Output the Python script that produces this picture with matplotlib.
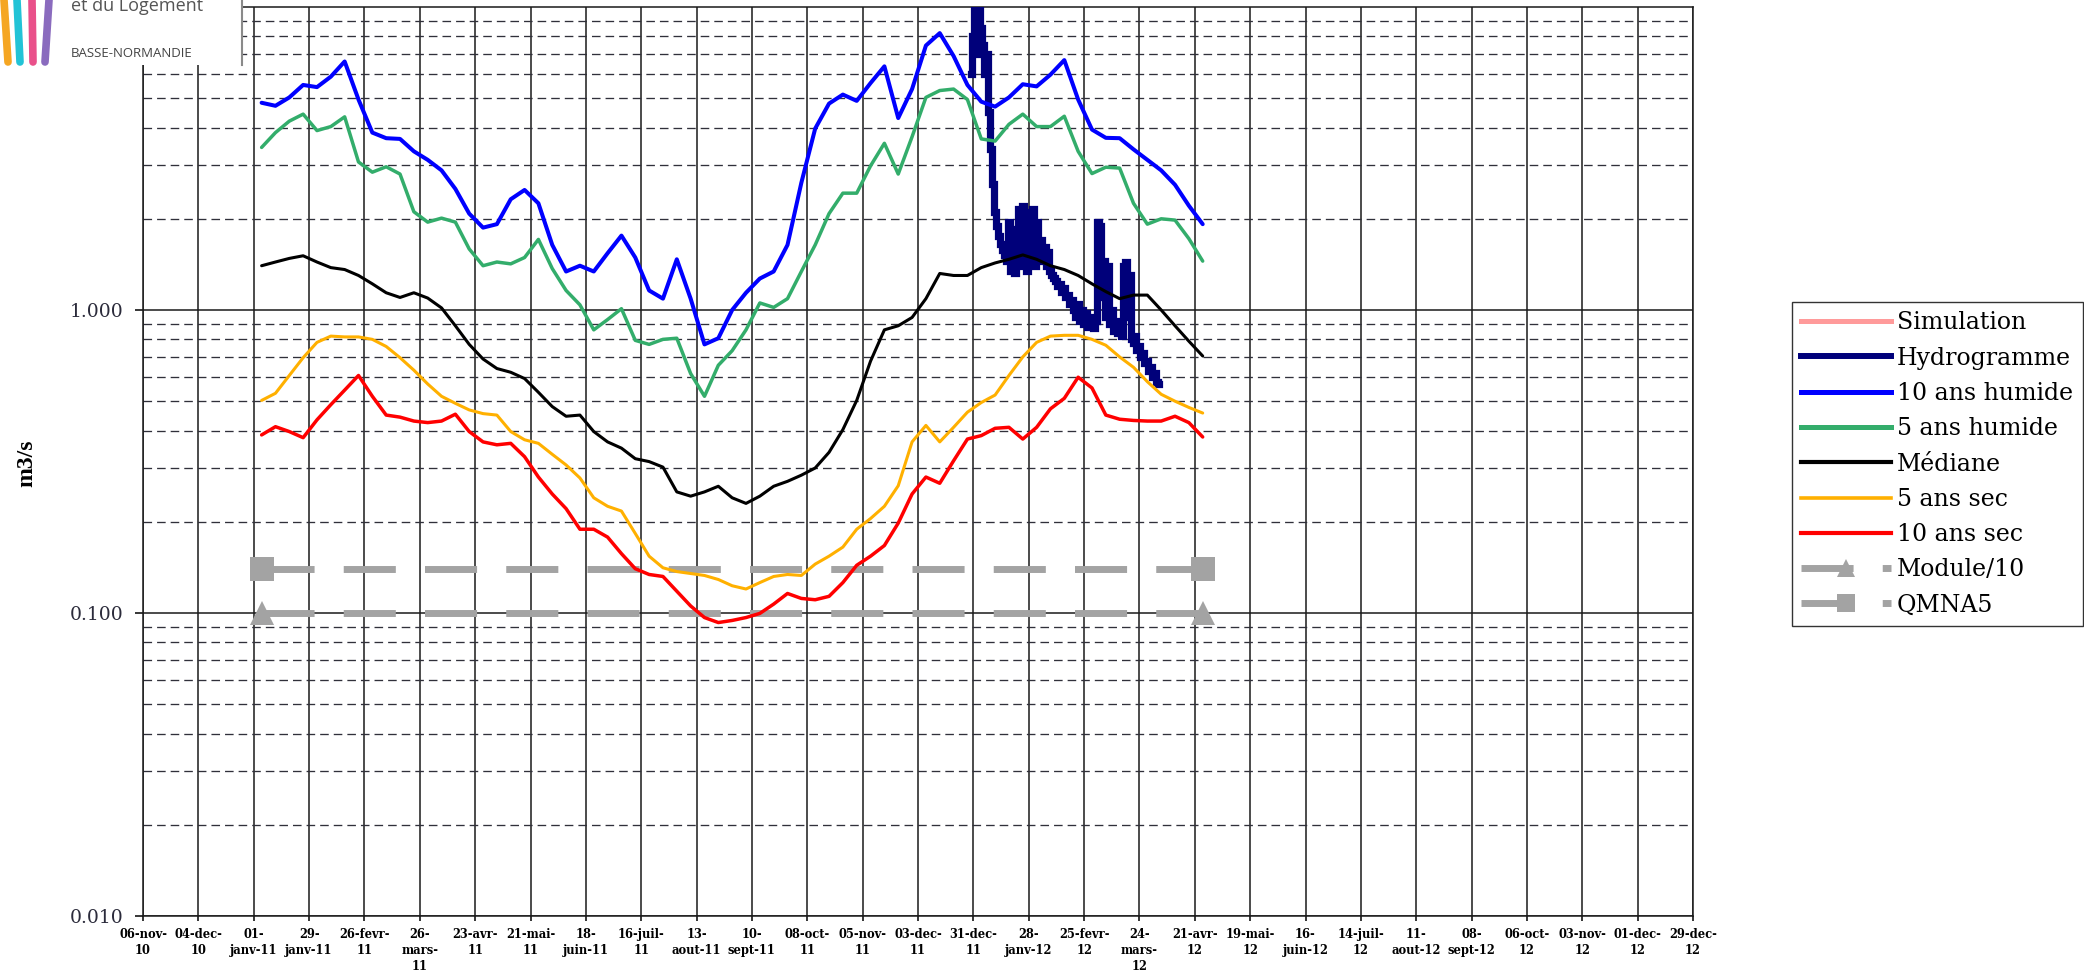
import matplotlib
matplotlib.use('Agg')
import matplotlib.pyplot as plt
from matplotlib.lines import Line2D
from matplotlib.patches import Rectangle
from matplotlib.ticker import FixedLocator, FixedFormatter, LogLocator, NullFormatter, NullLocator
import numpy as np
import pandas as pd

plt.rcParams['font.family'] = ['DejaVu Serif']

W, H, DPI = 2084, 974, 100

# ---------------- data ----------------
tick_dates = pd.date_range('2010-11-06', periods=29, freq='28D')
tick_labels = ["06-nov-\n10", "04-dec-\n10", "01-\njanv-11", "29-\njanv-11", "26-fevr-\n11",
               "26-\nmars-\n11", "23-avr-\n11", "21-mai-\n11", "18-\njuin-11", "16-juil-\n11",
               "13-\naout-11", "10-\nsept-11", "08-oct-\n11", "05-nov-\n11", "03-dec-\n11",
               "31-dec-\n11", "28-\njanv-12", "25-fevr-\n12", "24-\nmars-\n12", "21-avr-\n12",
               "19-mai-\n12", "16-\njuin-12", "14-juil-\n12", "11-\naout-12", "08-\nsept-12",
               "06-oct-\n12", "03-nov-\n12", "01-dec-\n12", "29-dec-\n12"]

y_ticks = [0.01, 0.1, 1.0]
y_tick_labels = ['0.010', '0.100', '1.000']

curve_start = '2011-01-05'

q10_humide = [4.83, 4.72, 5.03, 5.53, 5.44, 5.89, 6.61, 4.95, 3.85, 3.69,
              3.67, 3.34, 3.13, 2.89, 2.51, 2.08, 1.87, 1.92, 2.32, 2.49,
              2.25, 1.64, 1.34, 1.40, 1.34, 1.54, 1.76, 1.49, 1.16, 1.09,
              1.47, 1.09, 0.77, 0.807, 1.00, 1.14, 1.27, 1.34, 1.64, 2.63,
              3.97, 4.80, 5.14, 4.90, 5.61, 6.37, 4.30, 5.36, 7.46, 8.20,
              6.89, 5.53, 4.87, 4.69, 5.03, 5.56, 5.47, 5.98, 6.68, 4.95,
              3.94, 3.70, 3.69, 3.39, 3.13, 2.89, 2.59, 2.21, 1.92]

q5_humide = [3.44, 3.85, 4.20, 4.43, 3.91, 4.03, 4.34, 3.08, 2.85, 2.97,
             2.81, 2.11, 1.95, 2.01, 1.95, 1.59, 1.40, 1.44, 1.42, 1.49,
             1.71, 1.37, 1.16, 1.04, 0.86, 0.93, 1.01, 0.794, 0.77, 0.80,
             0.807, 0.617, 0.519, 0.657, 0.734, 0.86, 1.055, 1.02, 1.09, 1.34,
             1.64, 2.08, 2.43, 2.43, 2.99, 3.55, 2.81, 3.73, 5.03, 5.30,
             5.36, 4.95, 3.67, 3.61, 4.10, 4.43, 4.03, 4.03, 4.36, 3.34,
             2.82, 2.96, 2.94, 2.25, 1.92, 2.00, 1.98, 1.72, 1.45]

mediane = [1.40, 1.44, 1.48, 1.51, 1.44, 1.38, 1.36, 1.30, 1.22, 1.14,
           1.10, 1.14, 1.095, 1.016, 0.887, 0.77, 0.689, 0.641, 0.623, 0.594,
           0.535, 0.480, 0.446, 0.450, 0.397, 0.367, 0.350, 0.323, 0.316, 0.303,
           0.251, 0.243, 0.251, 0.262, 0.240, 0.230, 0.243, 0.262, 0.272, 0.285,
           0.301, 0.339, 0.403, 0.503, 0.678, 0.86, 0.887, 0.945, 1.09, 1.32,
           1.30, 1.30, 1.38, 1.43, 1.47, 1.52, 1.47, 1.40, 1.36, 1.30,
           1.22, 1.15, 1.09, 1.12, 1.12, 1.00, 0.887, 0.789, 0.705]

q5_sec = [0.503, 0.531, 0.608, 0.696, 0.782, 0.820, 0.815, 0.815, 0.80, 0.758,
          0.696, 0.633, 0.570, 0.519, 0.492, 0.468, 0.455, 0.450, 0.397, 0.373,
          0.363, 0.334, 0.308, 0.279, 0.240, 0.225, 0.217, 0.183, 0.154, 0.141,
          0.137, 0.135, 0.133, 0.129, 0.123, 0.120, 0.126, 0.132, 0.134, 0.133,
          0.145, 0.154, 0.165, 0.189, 0.205, 0.225, 0.263, 0.367, 0.416, 0.367,
          0.410, 0.460, 0.495, 0.524, 0.608, 0.700, 0.782, 0.820, 0.825, 0.825,
          0.80, 0.765, 0.700, 0.647, 0.580, 0.527, 0.500, 0.477, 0.457]

q10_sec = [0.387, 0.412, 0.397, 0.379, 0.434, 0.487, 0.544, 0.608, 0.519, 0.450,
           0.443, 0.430, 0.425, 0.430, 0.453, 0.397, 0.367, 0.359, 0.363, 0.328,
           0.281, 0.247, 0.221, 0.189, 0.189, 0.178, 0.157, 0.140, 0.134, 0.132,
           0.118, 0.1055, 0.0966, 0.093, 0.0945, 0.0966, 0.0997, 0.107, 0.116, 0.1117,
           0.1106, 0.1135, 0.126, 0.1437, 0.154, 0.167, 0.198, 0.247, 0.281, 0.268,
           0.318, 0.375, 0.385, 0.407, 0.410, 0.375, 0.410, 0.472, 0.511, 0.600,
           0.553, 0.450, 0.436, 0.432, 0.430, 0.430, 0.446, 0.425, 0.381]

hydro_start = '2011-12-30'
hydrogramme = [6.0, 8.0, 10.5, 7.0, 11.0, 8.5, 7.5, 6.0, 7.0, 4.5,
               3.4, 2.6, 2.1, 1.9, 1.75, 1.65, 1.58, 1.52, 1.45, 1.95,
               1.35, 1.85, 1.32, 1.70, 2.15, 1.40, 2.20, 1.45, 1.35, 2.10,
               1.50, 2.15, 1.40, 1.95, 1.55, 1.70, 1.45, 1.62, 1.40, 1.55,
               1.35, 1.30, 1.28, 1.25, 1.20, 1.22, 1.15, 1.18, 1.10, 1.12,
               1.05, 1.08, 1.00, 0.95, 1.05, 0.92, 1.00, 0.90, 0.98, 0.88,
               0.95, 0.90, 0.87, 0.92, 1.95, 1.90, 1.10, 1.45, 0.95, 1.40,
               0.90, 1.00, 0.85, 0.92, 0.84, 0.88, 0.82, 1.40, 1.44, 0.95,
               1.30, 0.80, 0.78, 0.82, 0.74, 0.76, 0.70, 0.72, 0.67, 0.68,
               0.63, 0.65, 0.60, 0.62, 0.58, 0.57]

module_10 = [0.100, 0.100]
qmna5 = [0.14, 0.14]

legend_labels = ['Simulation', 'Hydrogramme', '10 ans humide', '5 ans humide', 'Médiane',
                 '5 ans sec', '10 ans sec', 'Module/10', 'QMNA5']

# ---------------- styles ----------------
C_SIM = '#FF9A9A'
C_HYD = '#00007A'
C_BLUE = '#0000FF'
C_GREEN = '#33AD6B'
C_MED = '#000000'
C_ORANGE = '#FFB000'
C_RED = '#FF0000'
C_GRAY = '#A3A3A3'
GRAY_DASH = (0, (7.5, 4.2))

curve_dates = pd.date_range(curve_start, periods=len(q10_humide), freq='7D')
hydro_dates = pd.date_range(hydro_start, periods=len(hydrogramme), freq='D')
ref_dates = [curve_dates[0], curve_dates[-1]]

fig = plt.figure(figsize=(W / DPI, H / DPI), dpi=DPI, facecolor='white')
ax = fig.add_axes([143 / W, 1 - 916 / H, (1693 - 143) / W, (916 - 7) / H])
ax.set_facecolor('white')
ax.set_yscale('log')
ax.set_ylim(0.01, 10)
ax.set_xlim(tick_dates[0].to_pydatetime(), tick_dates[-1].to_pydatetime())

# grid
ax.set_axisbelow(True)
ax.yaxis.set_major_locator(FixedLocator(y_ticks))
ax.yaxis.set_major_formatter(FixedFormatter(y_tick_labels))
ax.yaxis.set_minor_locator(LogLocator(base=10, subs=np.arange(2, 10), numticks=20))
ax.yaxis.set_minor_formatter(NullFormatter())
ax.grid(which='major', axis='y', color='#1a1a1a', linewidth=1.1, linestyle='-')
ax.grid(which='minor', axis='y', color='#30303a', linewidth=0.95, linestyle=(0, (6.5, 3.8)))
ax.set_xticks(list(tick_dates))
ax.set_xticklabels(tick_labels)
ax.xaxis.set_minor_locator(NullLocator())
ax.grid(which='major', axis='x', color='#1a1a1a', linewidth=1.1, linestyle='-')

for s in ax.spines.values():
    s.set_linewidth(1.1)
    s.set_color('#1a1a1a')

ax.tick_params(axis='y', which='major', direction='out', length=5.8, width=1.1, pad=8,
               labelsize=13.5, labelcolor='#2b2b3b')
ax.tick_params(axis='y', which='minor', length=0)
ax.tick_params(axis='x', which='major', direction='out', length=3.6, width=1.1, pad=5,
               labelsize=8.3)
for lbl in ax.get_xticklabels():
    lbl.set_fontweight('bold')
    lbl.set_linespacing(1.28)

# reference lines (below curves)
ax.plot(ref_dates, module_10, color=C_GRAY, lw=5, linestyle=GRAY_DASH, marker='^',
        markersize=17, markevery=[0, 1], markeredgewidth=0, zorder=2, dash_capstyle='butt')
ax.plot(ref_dates, qmna5, color=C_GRAY, lw=5, linestyle=GRAY_DASH, marker='s',
        markersize=17, markevery=[0, 1], markeredgewidth=0, zorder=2, dash_capstyle='butt')

# hydrogramme
ax.plot(hydro_dates, hydrogramme, color=C_HYD, lw=5.2, drawstyle='steps-mid', zorder=3,
        solid_joinstyle='miter')

# statistical curves
for vals, col, lw in [(q10_humide, C_BLUE, 2.9), (q5_humide, C_GREEN, 2.5),
                      (mediane, C_MED, 2.2), (q5_sec, C_ORANGE, 2.2), (q10_sec, C_RED, 2.5)]:
    ax.plot(curve_dates, vals, color=col, lw=lw, zorder=4, solid_capstyle='round',
            solid_joinstyle='round')

# y label
fig.text(27 / W, 1 - 463 / H, 'm3/s', rotation=90, fontsize=17, fontweight='bold',
         family='Liberation Serif', ha='center', va='center')

# legend
handles = [
    Line2D([], [], color=C_SIM, lw=3.6),
    Line2D([], [], color=C_HYD, lw=4.3),
    Line2D([], [], color=C_BLUE, lw=3.6),
    Line2D([], [], color=C_GREEN, lw=3.6),
    Line2D([], [], color=C_MED, lw=3.0),
    Line2D([], [], color=C_ORANGE, lw=2.6),
    Line2D([], [], color=C_RED, lw=3.0),
    Line2D([], [], color=C_GRAY, lw=5, linestyle=GRAY_DASH, marker='^', markersize=13,
           markeredgewidth=0),
    Line2D([], [], color=C_GRAY, lw=5, linestyle=GRAY_DASH, marker='s', markersize=13,
           markeredgewidth=0),
]
leg = fig.legend(handles, legend_labels, loc='upper left',
                 bbox_to_anchor=(1792 / W, 1 - 302 / H), bbox_transform=fig.transFigure,
                 frameon=True, fancybox=False, edgecolor='#333333', framealpha=1,
                 prop={'family': 'DejaVu Serif', 'size': 17}, handlelength=3.8,
                 handletextpad=0.25, labelspacing=0.52, borderpad=0.4, borderaxespad=0,
                 numpoints=1)
leg.get_frame().set_linewidth(1.0)

# logo block (top-left)
fig.add_artist(Rectangle((0, 1 - 65 / H), 242 / W, 65 / H, transform=fig.transFigure,
                         facecolor='white', edgecolor='none', zorder=10))
fig.add_artist(Line2D([242 / W, 242 / W], [1, 1 - 65 / H], transform=fig.transFigure,
                      color='#8a8a8a', lw=1.5, zorder=11))
for (xt, xb, col) in [(4, 8, '#F5A623'), (17, 20, '#22C3D6'), (32, 33, '#E9508A'),
                      (49, 45, '#8A6BBE')]:
    fig.add_artist(Line2D([xt / W, xb / W], [1, 1 - 62 / H], transform=fig.transFigure,
                          color=col, lw=5.5, solid_capstyle='round', zorder=11))
fig.text(71 / W, 1 - 11 / H, 'et du Logement', fontsize=13, color='#555555',
         family='Open Sans', va='baseline', ha='left', zorder=12)
fig.text(71 / W, 1 - 57 / H, 'BASSE-NORMANDIE', fontsize=9.5, color='#444444',
         family='Open Sans', va='baseline', ha='left', zorder=12)

fig.savefig('out.png', dpi=DPI, facecolor='white')
